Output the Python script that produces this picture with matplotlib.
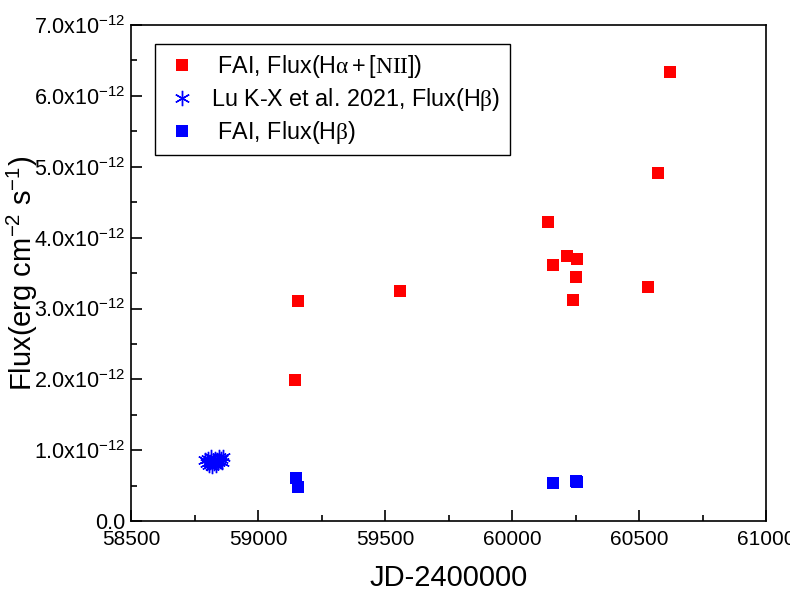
import matplotlib.pyplot as plt
from matplotlib.ticker import FuncFormatter, MultipleLocator

plt.rcParams["font.family"] = ["Liberation Sans", "DejaVu Sans"]
plt.rcParams["mathtext.fontset"] = "custom"
plt.rcParams["mathtext.rm"] = "Liberation Sans"
plt.rcParams["mathtext.it"] = "Liberation Serif"
plt.rcParams["mathtext.default"] = "regular"

# FAI, H-alpha + [NII] flux (units of 1e-12 erg cm^-2 s^-1)
fai_ha_jd = [59146, 59157, 59559, 60142, 60161, 60217, 60256, 60252, 60240,
             60535, 60575, 60622]
fai_ha_flux = [1.99, 3.10, 3.25, 4.22, 3.61, 3.74, 3.70, 3.44, 3.12,
               3.30, 4.91, 6.33]

# Lu K-X et al. 2021, H-beta flux
lu_jd = [58792, 58798, 58803, 58807, 58811, 58815, 58819, 58823, 58826,
         58830, 58833, 58837, 58841, 58845, 58849, 58853, 58858, 58863]
lu_flux = [0.86, 0.82, 0.88, 0.80, 0.84, 0.90, 0.78, 0.85, 0.82,
           0.88, 0.80, 0.86, 0.83, 0.91, 0.85, 0.88, 0.84, 0.90]

# FAI, H-beta flux
fai_hb_jd = [59150, 59157, 60161, 60250, 60255]
fai_hb_flux = [0.61, 0.49, 0.54, 0.57, 0.55]

fig = plt.figure(figsize=(7.9, 5.93), dpi=100)
ax = fig.add_axes([0.166, 0.121, 0.804, 0.837])

ax.plot(fai_ha_jd, fai_ha_flux, "s", color="#ff0000", markersize=8,
        markeredgewidth=0, label=" FAI, Flux(H$\\mathit{α+[NII]}$)")
ax.plot(lu_jd, lu_flux, linestyle="none", marker=(6, 2, 0), color="#0000ff",
        markersize=11, markeredgewidth=1.0, label="Lu K-X et al. 2021, Flux(H$\\mathit{β}$)")
ax.plot(fai_hb_jd, fai_hb_flux, "s", color="#0000ff", markersize=8,
        markeredgewidth=0, label=" FAI, Flux(H$\\mathit{β}$)")

ax.set_xlim(58500, 61000)
ax.set_ylim(0, 7)
ax.xaxis.set_major_locator(MultipleLocator(500))
ax.xaxis.set_minor_locator(MultipleLocator(250))
ax.yaxis.set_major_locator(MultipleLocator(1))
ax.yaxis.set_minor_locator(MultipleLocator(0.5))


def sci_label(v, pos):
    if abs(v) < 1e-9:
        return "0.0"
    return f"{v:.1f}x10$^{{-12}}$"


ax.yaxis.set_major_formatter(FuncFormatter(sci_label))
ax.tick_params(which="both", direction="in", width=1.2)
ax.tick_params(axis="x", labelsize=15, pad=6)
ax.tick_params(axis="y", labelsize=15.5, pad=4)
ax.tick_params(which="major", length=8)
ax.tick_params(which="minor", length=4.5)
for s in ax.spines.values():
    s.set_linewidth(1.2)

ax.set_xlabel("JD-2400000", fontsize=21, labelpad=11)
ax.set_ylabel("Flux(erg cm$^{-2}$ s$^{-1}$)", fontsize=21)
ax.yaxis.set_label_coords(-0.143, 0.5)

leg = ax.legend(loc="upper left", bbox_to_anchor=(0.038, 0.962),
                borderaxespad=0, fontsize=16.8, fancybox=False,
                edgecolor="black", framealpha=1, handletextpad=0.5,
                labelspacing=0.25, borderpad=0.4, handlelength=1.5)
leg.get_frame().set_linewidth(1.0)

fig.savefig("out.png", dpi=100)
